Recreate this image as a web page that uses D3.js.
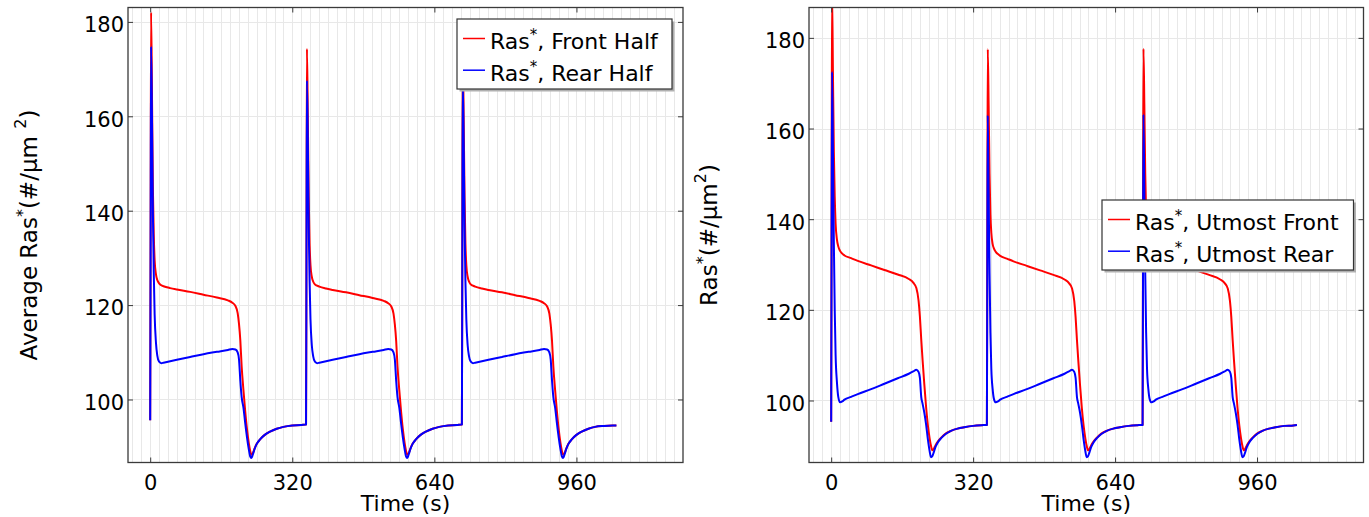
<!DOCTYPE html>
<html>
<head>
<meta charset="utf-8">
<script src="https://cdn.jsdelivr.net/npm/d3@7"></script>
<style>
  html, body { margin: 0; padding: 0; background: #fff; }
  svg { display: block; font-family: "DejaVu Sans", sans-serif; }
</style>
</head>
<body>
<svg id="chart" width="1369" height="517"></svg>
<script>
// Time samples (s) shared by every series: three activation cycles
const timeS = [
  0, 1, 2, 4, 6, 8, 10, 13, 16, 20, 25, 30, 45, 60, 90, 120, 150, 175, 185, 192,
  197, 200, 203, 206, 210, 214, 218, 222, 225, 228, 231, 235, 240, 248, 258, 270, 285, 300, 320, 340, 350,
  351, 352, 353, 355, 357, 359, 361, 364, 367, 371, 376, 381, 396, 411, 441, 471, 501, 526, 536, 543,
  548, 551, 554, 557, 561, 565, 569, 573, 576, 579, 582, 586, 591, 599, 609, 621, 636, 651, 671, 691, 701,
  702, 703, 704, 706, 708, 710, 712, 715, 718, 722, 727, 732, 747, 762, 792, 822, 852, 877, 887, 894,
  899, 902, 905, 908, 912, 916, 920, 924, 927, 930, 933, 937, 942, 950, 960, 972, 987, 1002, 1022, 1042, 1050
];

// Average Ras* over the front half of the cell (#/um^2)
const frontHalf = [
  95.6, 140, 182.0, 165, 145, 135, 129.5, 126.5, 125.3, 124.6, 124.2, 124.0, 123.6, 123.3, 122.8, 122.2, 121.6, 121.0, 120.5, 119.8,
  118.3, 116.0, 112.5, 107.0, 102.0, 97.5, 93.7, 90.8, 89.2, 88.3, 88.6, 89.6, 90.6, 91.6, 92.5, 93.2, 93.8, 94.2, 94.5, 94.6, 94.7,
  94.7, 135, 174.3, 160, 143, 133, 128.5, 126.0, 125.0, 124.4, 124.1, 123.9, 123.5, 123.2, 122.7, 122.1, 121.5, 120.9, 120.4, 119.7,
  118.2, 115.9, 112.4, 107.0, 102.0, 97.5, 93.7, 90.8, 89.2, 88.3, 88.6, 89.6, 90.6, 91.6, 92.5, 93.2, 93.8, 94.2, 94.5, 94.6, 94.7,
  94.7, 135, 174.5, 160, 143, 133, 128.5, 126.0, 125.0, 124.4, 124.1, 123.9, 123.5, 123.2, 122.7, 122.1, 121.5, 120.9, 120.4, 119.7,
  118.2, 115.9, 112.4, 107.0, 102.0, 97.5, 93.7, 90.8, 89.2, 88.3, 88.6, 89.6, 90.6, 91.6, 92.5, 93.2, 93.8, 94.2, 94.4, 94.5, 94.5
];

// Average Ras* over the rear half of the cell (#/um^2)
const rearHalf = [
  95.6, 135, 174.8, 160, 140, 127, 118, 112, 109.3, 108.0, 107.7, 107.8, 108.1, 108.4, 109.0, 109.6, 110.1, 110.5, 110.7, 110.6,
  110.0, 108.5, 104.0, 100.5, 98.3, 95.0, 92.0, 89.5, 88.0, 87.6, 88.3, 89.5, 90.6, 91.6, 92.5, 93.2, 93.8, 94.2, 94.5, 94.6, 94.7,
  94.7, 130, 167.6, 155, 137, 125, 117, 111.5, 109.2, 108.0, 107.7, 107.8, 108.1, 108.4, 109.0, 109.6, 110.1, 110.5, 110.7, 110.6,
  110.0, 108.5, 104.0, 100.5, 98.3, 95.0, 92.0, 89.5, 88.0, 87.6, 88.3, 89.5, 90.6, 91.6, 92.5, 93.2, 93.8, 94.2, 94.5, 94.6, 94.7,
  94.7, 130, 167.5, 155, 137, 125, 117, 111.5, 109.2, 108.0, 107.7, 107.8, 108.1, 108.4, 109.0, 109.6, 110.1, 110.5, 110.7, 110.6,
  110.0, 108.5, 104.0, 100.5, 98.3, 95.0, 92.0, 89.5, 88.0, 87.6, 88.3, 89.5, 90.6, 91.6, 92.5, 93.2, 93.8, 94.2, 94.4, 94.5, 94.5
];

// Ras* at the utmost front point of the cell (#/um^2)
const utmostFront = [
  95.3, 150, 190, 172, 155, 145, 139, 135.5, 134.0, 133.0, 132.4, 132.0, 131.4, 130.8, 129.8, 128.8, 127.8, 126.8, 126.0, 124.8,
  122.0, 118.5, 113.5, 109.0, 103.5, 98.5, 94.5, 91.6, 90.0, 89.0, 89.3, 90.1, 90.9, 91.8, 92.7, 93.3, 93.8, 94.1, 94.4, 94.55, 94.6,
  94.6, 140, 177.5, 165, 150, 141, 137, 134.5, 133.5, 132.8, 132.3, 131.9, 131.3, 130.7, 129.7, 128.7, 127.7, 126.7, 125.9, 124.7,
  121.9, 118.4, 113.4, 108.9, 103.4, 98.4, 94.5, 91.6, 90.0, 89.0, 89.3, 90.1, 90.9, 91.8, 92.7, 93.3, 93.8, 94.1, 94.4, 94.55, 94.6,
  94.6, 140, 177.6, 165, 150, 141, 137, 134.5, 133.5, 132.8, 132.3, 131.9, 131.3, 130.7, 129.7, 128.7, 127.7, 126.7, 125.9, 124.7,
  121.9, 118.4, 113.4, 108.9, 103.4, 98.4, 94.5, 91.6, 90.0, 89.0, 89.3, 90.1, 90.9, 91.8, 92.7, 93.3, 93.8, 94.1, 94.4, 94.5, 94.6
];

// Ras* at the utmost rear point of the cell (#/um^2)
const utmostRear = [
  95.3, 135, 172.5, 155, 135, 120, 110, 104, 100.8, 99.6, 99.8, 100.2, 100.8, 101.4, 102.5, 103.7, 104.9, 105.9, 106.4, 106.8,
  106.3, 105.0, 100.8, 99.3, 97.3, 94.7, 91.4, 88.8, 87.5, 87.7, 88.5, 89.7, 90.7, 91.7, 92.6, 93.3, 93.8, 94.1, 94.4, 94.55, 94.6,
  94.6, 130, 162.9, 145, 128, 115, 107, 102.5, 100.3, 99.6, 99.8, 100.2, 100.8, 101.4, 102.5, 103.7, 104.9, 105.9, 106.4, 106.8,
  106.3, 105.0, 100.8, 99.3, 97.3, 94.7, 91.4, 88.8, 87.5, 87.7, 88.5, 89.7, 90.7, 91.7, 92.6, 93.3, 93.8, 94.1, 94.4, 94.55, 94.6,
  94.6, 130, 163.1, 145, 128, 115, 107, 102.5, 100.3, 99.6, 99.8, 100.2, 100.8, 101.4, 102.5, 103.7, 104.9, 105.9, 106.4, 106.8,
  106.3, 105.0, 100.8, 99.3, 97.3, 94.7, 91.4, 88.8, 87.5, 87.7, 88.5, 89.7, 90.7, 91.7, 92.6, 93.3, 93.8, 94.1, 94.4, 94.5, 94.6
];

const xTickValues = [0, 320, 640, 960];
const yTickValues = [100, 120, 140, 160, 180];
const seriesColors = ["#ff0000", "#0000ff"];
const leftLegendNames = [", Front Half", ", Rear Half"];
const rightLegendNames = [", Utmost Front", ", Utmost Rear"];

const svg = d3.select("#chart");
svg.append("rect").attr("width", 1369).attr("height", 517).attr("fill", "#fff");

const plotTop = 7.5, plotBottom = 462.5;

const panels = [
  {
    key: "half", left: 128, right: 683, yDomain: [86.65, 183.05],
    series: [frontHalf, rearHalf], names: leftLegendNames,
    yLabelX: 37, yLabelParts: [["Average Ras", 0, 23], ["*", -9, 16], ["(#/\u03bcm ", 9, 23], ["2", -11, 16], [")", 11, 23]],
    legend: { x: 457, y: 19, w: 215, h: 70 }
  },
  {
    key: "utmost", left: 809, right: 1363.5, yDomain: [86.32, 186.7],
    series: [utmostFront, utmostRear], names: rightLegendNames,
    yLabelX: 717, yLabelParts: [["Ras", 0, 23], ["*", -9, 16], ["(#/\u03bcm", 9, 23], ["2", -11, 16], [")", 11, 23]],
    legend: { x: 1102, y: 200, w: 251.5, h: 70 }
  }
];

panels.forEach(p => {
  const x = d3.scaleLinear().domain([-50, 1200]).range([p.left, p.right]);
  const y = d3.scaleLinear().domain(p.yDomain).range([plotBottom, plotTop]);
  const g = svg.append("g");

  // vertical grid every 20 s, horizontal grid at labelled values
  g.append("g").selectAll("line")
    .data(d3.range(-40, 1200, 20))
    .join("line")
    .attr("x1", d => Math.round(x(d)) + 0.5).attr("x2", d => Math.round(x(d)) + 0.5)
    .attr("y1", plotTop).attr("y2", plotBottom)
    .attr("stroke", "#e8e8e8").attr("stroke-width", 1);
  g.append("g").selectAll("line")
    .data(yTickValues)
    .join("line")
    .attr("x1", p.left).attr("x2", p.right)
    .attr("y1", d => Math.round(y(d)) + 0.5).attr("y2", d => Math.round(y(d)) + 0.5)
    .attr("stroke", "#e8e8e8").attr("stroke-width", 1);

  // curves, clipped to the plot frame
  const clipId = "clip-" + p.key;
  svg.append("clipPath").attr("id", clipId)
    .append("rect").attr("x", p.left).attr("y", plotTop)
    .attr("width", p.right - p.left).attr("height", plotBottom - plotTop);

  const line = d3.line()
    .x((d, i) => x(timeS[i]))
    .y(d => y(d))
    .curve(d3.curveMonotoneX);

  const lines = g.append("g").attr("clip-path", `url(#${clipId})`);
  p.series.forEach((s, k) => {
    lines.append("path")
      .attr("d", line(s))
      .attr("fill", "none")
      .attr("stroke", seriesColors[k])
      .attr("stroke-width", 2)
      .attr("stroke-linejoin", "round");
  });

  // axes with inward ticks
  const axisColor = "#3a3a3a";
  const bottom = g.append("g").attr("transform", `translate(0,${plotBottom})`)
    .call(d3.axisBottom(x).tickValues(xTickValues).tickSizeInner(-5).tickSizeOuter(0).tickPadding(13));
  const left = g.append("g").attr("transform", `translate(${p.left},0)`)
    .call(d3.axisLeft(y).tickValues(yTickValues).tickSizeInner(-5).tickSizeOuter(0).tickPadding(4));
  const top = g.append("g").attr("transform", `translate(0,${plotTop})`)
    .call(d3.axisTop(x).tickValues(xTickValues).tickSizeInner(-5).tickSizeOuter(0).tickFormat(""));
  const right = g.append("g").attr("transform", `translate(${p.right},0)`)
    .call(d3.axisRight(y).tickValues(yTickValues).tickSizeInner(-5).tickSizeOuter(0).tickFormat(""));

  [bottom, left, top, right].forEach(a => {
    a.select(".domain").remove();
    a.selectAll(".tick line").attr("stroke", axisColor);
    a.selectAll("text").attr("font-family", "DejaVu Sans").attr("font-size", 21).attr("fill", "#000");
  });
  left.selectAll("text").attr("dy", "0.47em");

  g.append("rect")
    .attr("x", p.left).attr("y", plotTop)
    .attr("width", p.right - p.left).attr("height", plotBottom - plotTop)
    .attr("fill", "none").attr("stroke", axisColor).attr("stroke-width", 1.3);

  // axis titles
  g.append("text")
    .attr("x", (p.left + p.right) / 2).attr("y", 511)
    .attr("text-anchor", "middle").attr("font-size", 22)
    .text("Time (s)");

  const yl = g.append("text")
    .attr("transform", `translate(${p.yLabelX},${(plotTop + plotBottom) / 2}) rotate(-90)`)
    .attr("text-anchor", "middle");
  p.yLabelParts.forEach(([t, dy, fs]) => {
    yl.append("tspan").attr("dy", dy).attr("font-size", fs).text(t);
  });

  // legend
  const L = p.legend;
  const lg = g.append("g");
  lg.append("rect").attr("x", L.x + 2.5).attr("y", L.y + 2.5).attr("width", L.w).attr("height", L.h)
    .attr("fill", "#b0b0b0");
  lg.append("rect").attr("x", L.x).attr("y", L.y).attr("width", L.w).attr("height", L.h)
    .attr("fill", "#fff").attr("stroke", "#333").attr("stroke-width", 1.2);
  p.names.forEach((nm, k) => {
    const cy = L.y + 19.5 + k * 31.7;
    lg.append("line")
      .attr("x1", L.x + 6).attr("x2", L.x + 28)
      .attr("y1", cy).attr("y2", cy)
      .attr("stroke", seriesColors[k]).attr("stroke-width", 1.5);
    const t = lg.append("text")
      .attr("x", L.x + 33).attr("y", cy + 10.5)
      .attr("font-size", 22);
    t.append("tspan").text("Ras");
    t.append("tspan").attr("dy", -9).attr("font-size", 15).text("*");
    t.append("tspan").attr("dy", 9).text(nm);
  });
});
</script>
</body>
</html>
